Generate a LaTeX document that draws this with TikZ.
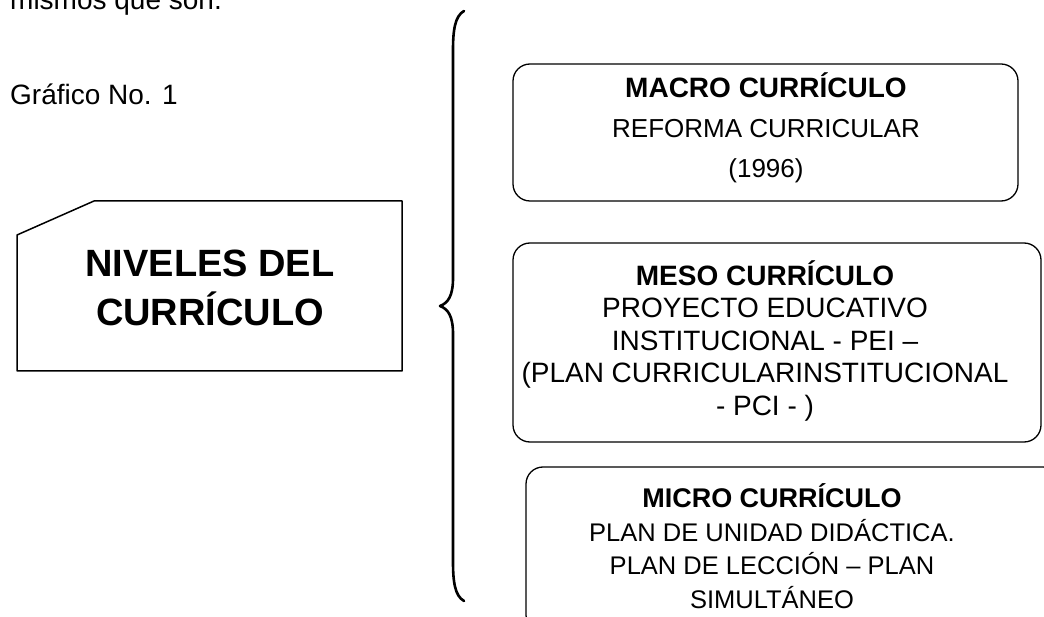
\documentclass[tikz,border=0pt]{standalone}
\usepackage{fontspec}
\setmainfont{Liberation Sans}
\begin{document}
\begin{tikzpicture}[x=1pt,y=-1pt,line join=round]
\tikzset{
  bodytxt/.style={inner sep=0pt, anchor=base west, font=\fontsize{28}{33}\selectfont},
  boxtxt/.style={inner sep=0pt, align=center, anchor=base},
  roundbox/.style={draw, line width=1.3pt, rounded corners=17pt, inner sep=0pt},
  bracepath/.style={line width=2.6pt, line cap=round},
}
\useasboundingbox (0,0) rectangle (1044,617);
\node[bodytxt] (intro) at (10,10) {mismos que son.};
\node[bodytxt] (graf) at (10,105) {Gráfico No. 1};
% left box
\draw[line width=1.5pt] (17,235) -- (94,201) -- (402,201) -- (402,371) -- (17,371) -- cycle;
\node[boxtxt, font=\fontsize{38}{49}\selectfont\bfseries] (niveles) at (210,326) {NIVELES DEL\\CURRÍCULO};
% brace
\coordinate (btop) at (464,11);
\coordinate (bmid) at (440,306);
\coordinate (bbot) at (464,601);
\draw[bracepath] (btop) .. controls (455,16) and (453,30) .. (453,50) -- (453,278)
  .. controls (453,296) and (448,303) .. (bmid)
  .. controls (448,309) and (453,316) .. (453,334) -- (453,562)
  .. controls (453,582) and (455,596) .. (bbot);
% boxes
\node[roundbox, minimum width=505pt, minimum height=137pt] (macro) at (765.5,132.5) {};
\node[roundbox, minimum width=528pt, minimum height=199pt] (meso) at (777,342.5) {};
\node[roundbox, minimum width=534pt, minimum height=165pt] (micro) at (793,549.5) {};
\node[boxtxt, font=\fontsize{28}{40}\selectfont] (macrotxt) at (766,178)
  {\textbf{MACRO CURRÍCULO}\\{\fontsize{26}{40}\selectfont REFORMA CURRICULAR}\\{\fontsize{26}{40}\selectfont (1996)}};
\node[boxtxt, font=\fontsize{28}{32.5}\selectfont] (mesotxt) at (765,415)
  {\textbf{MESO CURRÍCULO}\\PROYECTO EDUCATIVO\\INSTITUCIONAL - PEI –\\(PLAN CURRICULARINSTITUCIONAL\\- PCI - )};
\node[boxtxt, font=\fontsize{27}{33.5}\selectfont] (microtxt) at (772,608)
  {\textbf{MICRO CURRÍCULO}\\{\fontsize{25.5}{33.5}\selectfont PLAN DE UNIDAD DIDÁCTICA.}\\{\fontsize{25.5}{33.5}\selectfont PLAN DE LECCIÓN – PLAN}\\{\fontsize{25.5}{33.5}\selectfont SIMULTÁNEO}};
\end{tikzpicture}
\end{document}
